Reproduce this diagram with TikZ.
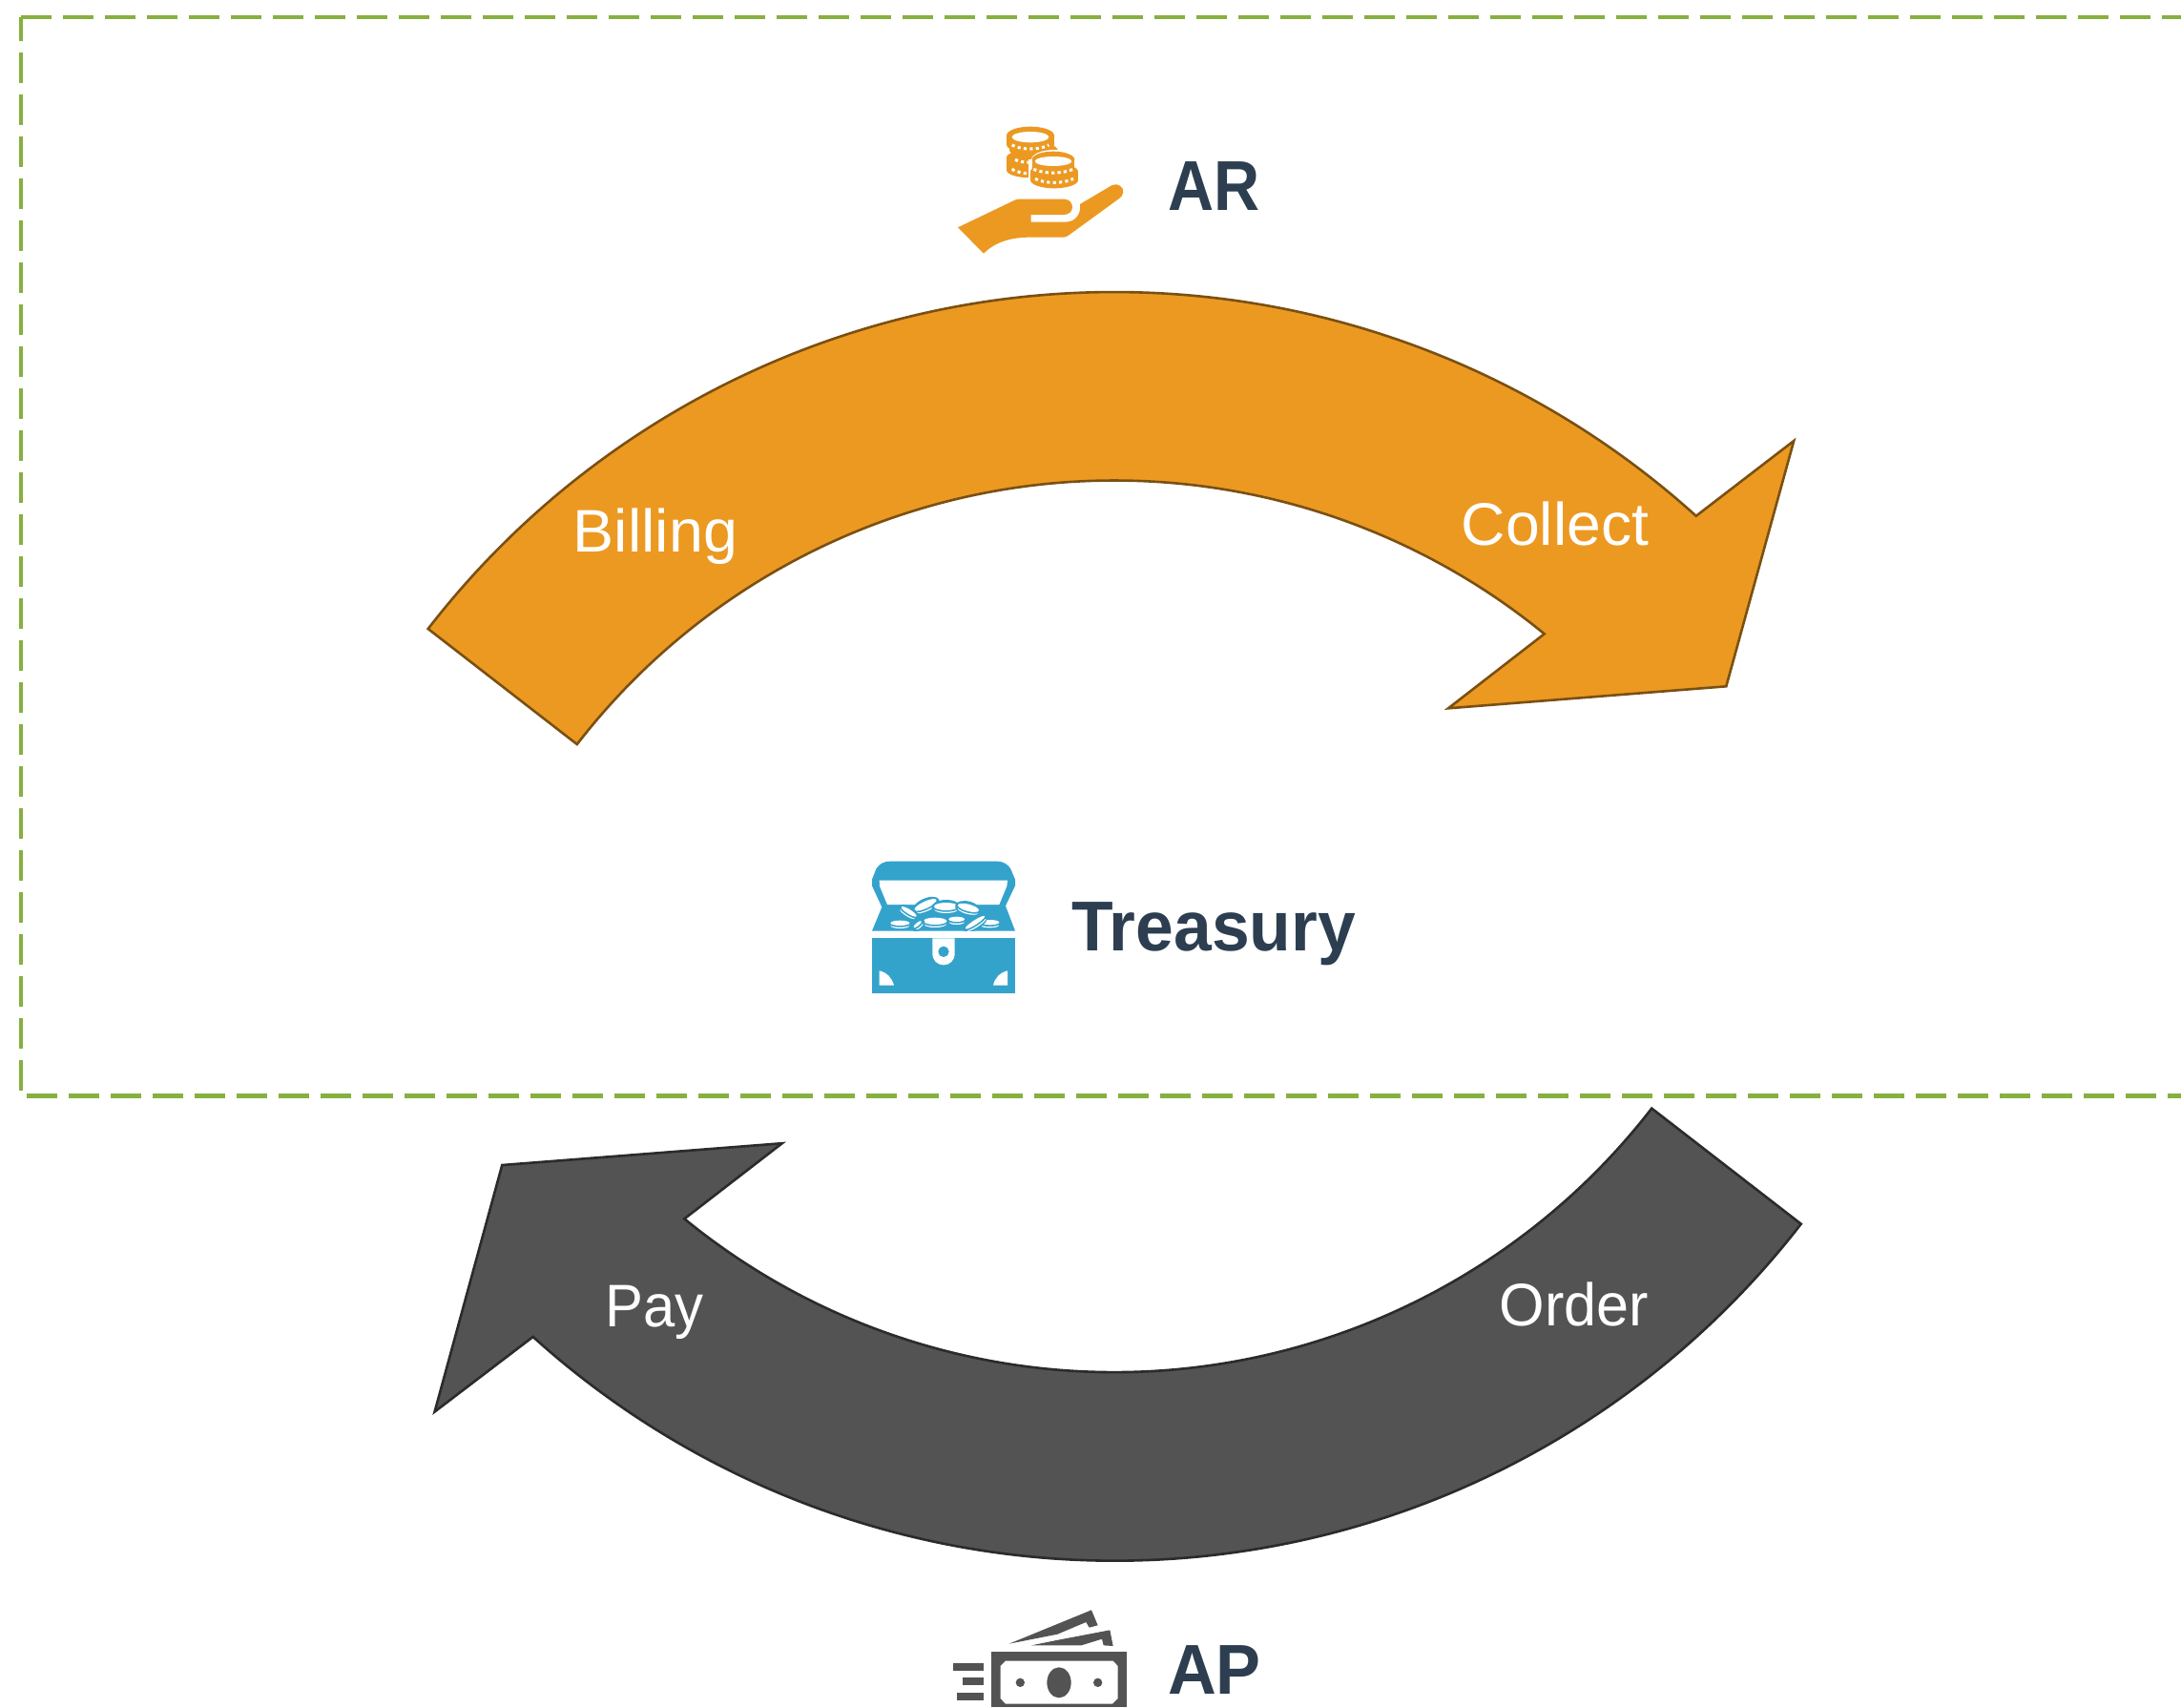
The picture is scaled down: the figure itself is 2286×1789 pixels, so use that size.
\documentclass[tikz,border=0pt]{standalone}
\usepackage{fontspec}
\setmainfont{Liberation Sans}
\definecolor{orangefill}{HTML}{EC9922}
\definecolor{orangeline}{HTML}{7A5012}
\definecolor{greyfill}{HTML}{535353}
\definecolor{greyline}{HTML}{2B2B2B}
\definecolor{navy}{HTML}{2C3E50}
\definecolor{chest}{HTML}{34A3CC}
\definecolor{boxgreen}{HTML}{86B03F}
\tikzset{
  stagetext/.style={anchor=base west,inner sep=0pt,text=white,font=\fontsize{63}{70}\selectfont,transform shape,xscale=#1},
  stagetext/.default=1,
  headtext/.style={anchor=base west,inner sep=0pt,text=navy,font=\bfseries\fontsize{74}{80}\selectfont,transform shape,xscale=#1},
  boxline/.style={draw=boxgreen,line width=4.3pt,dash pattern=on 32pt off 12pt},
  orangearrow/.style={fill=orangefill,draw=orangeline,line width=2.6pt,line join=miter},
  greyarrow/.style={fill=greyfill,draw=greyline,line width=2.6pt,line join=miter}
}
\newcommand{\coinpart}[5]{% cx cy rx ry h
  \fill[orangefill] (#1,#2) ellipse [x radius=#3pt,y radius=#4pt];
  \fill[orangefill] ({#1},{#2+#5}) ellipse [x radius=#3pt,y radius=#4pt];
  \fill[orangefill] ({#1-#3},{#2}) rectangle ({#1+#3},{#2+#5});
}
\newcommand{\coinface}[4]{% cx cy rx ry
  \fill[white] (#1,#2) ellipse [x radius=#3pt,y radius=#4pt];
}
\newcommand{\coinedge}[4]{% cx y rx sag
  \draw[white,line width=3pt,dash pattern=on 3.2pt off 3.2pt]
    ({#1-#3},{#2}) .. controls ({#1-#3*.5},{#2+#4}) and ({#1+#3*.5},{#2+#4}) .. ({#1+#3},{#2});
}
\newcommand{\pilecoin}[5]{% x y rx ry angle
  \begin{scope}[rotate around={#5:(#1,#2)}]
    \fill[chest] ({#1},{#2+3}) ellipse [x radius=#3pt+8pt,y radius=#4pt+12pt];
    \fill[white] ({#1},{#2+9}) ellipse [x radius=#3pt-1pt,y radius=#4pt];
    \fill[chest] ({#1},{#2+4}) ellipse [x radius=#3pt+3pt,y radius=#4pt+1pt];
    \fill[white] (#1,#2) ellipse [x radius=#3pt,y radius=#4pt];
  \end{scope}
}
\begin{document}
\begin{tikzpicture}[x=1pt,y=-1pt]
\useasboundingbox (0,0) rectangle (2286,1789);
\fill[white] (0,0) rectangle (2286,1789);
% dashed frame
\draw[boxline] (22,18) -- (2320,18);
\draw[boxline,dash phase=7pt] (22,18) -- (22,1148);
\draw[boxline] (2304,1148.5) -- (22,1148.5);
% orange arrow
\draw[orangearrow] (448.7,659) arc [start angle=142.27,end angle=47.9,radius=909.5pt]
  -- (1880.2,462) -- (1809.3,719.3) -- (1518,742.3) -- (1618.7,664.3)
  arc [start angle=50.73,end angle=142.29,radius=712pt] -- cycle;
% grey arrow
\draw[greyarrow] (1887.7,1282.7) arc [start angle=-37.73,end angle=-132.1,radius=909.5pt]
  -- (455.6,1479.5) -- (526.3,1221) -- (819.7,1198.2) -- (717.3,1277.3)
  arc [start angle=-129.27,end angle=-37.71,radius=712pt] -- cycle;
% labels
\node[stagetext=1.025] (billing) at (600.5,578) {Billing};
\node[stagetext=1.02] (collect) at (1531.5,571) {Collect};
\node[stagetext=.95] (pay) at (634,1390) {Pay};
\node[stagetext=.97] (order) at (1571.6,1389.5) {Order};
\node[headtext=.9] (ar) at (1224,220) {AR};
\node[headtext=.965] (treasury) at (1123,996) {Treasury};
\node[headtext=.95] (ap) at (1224,1775) {AP};
% hand and coins
\begin{scope}[shift={(980,110)},scale=1/3]
  \fill[orangefill] (72,385) -- (245,302) .. controls (252,298) and (258,296) .. (265,296)
    -- (405,296) .. controls (422,296) and (432,308) .. (432,321) .. controls (432,335) and (420,345) .. (405,345)
    -- (302,345) -- (302,368) -- (410,368) .. controls (440,368) and (460,345) .. (456,312)
    -- (557,252) .. controls (575,243) and (595,260) .. (592,275) .. controls (590,284) and (585,290) .. (578,295)
    -- (420,410) .. controls (415,414) and (410,416) .. (402,416) -- (300,416)
    .. controls (240,416) and (190,430) .. (153,467) -- cycle;
  \coinpart{300}{165}{75}{24}{40}
  \fill[orangefill] (310,142) ellipse [x radius=76pt,y radius=24pt];
  \coinedge{300}{172}{48}{12}
  \coinedge{300}{202}{58}{18}
  \coinpart{300}{96}{75}{28}{28}
  \coinface{300}{101}{58}{17}
  \coinedge{300}{126}{58}{16}
  \fill[white] (375,172) ellipse [x radius=72pt,y radius=31pt];
  \fill[white] (375,235) ellipse [x radius=81pt,y radius=32pt];
  \fill[white] (294,172) rectangle (456,235);
  \coinpart{372}{172}{67}{26}{25}
  \coinpart{375}{210}{75}{26}{26}
  \coinface{372}{177}{58}{15}
  \coinedge{372}{202}{62}{15}
  \coinedge{375}{232}{60}{16}
\end{scope}
% chest
\begin{scope}[shift={(890,880)},scale=1/3]
  \fill[chest] (72,125) -- (85,92) .. controls (95,76) and (110,68) .. (128,68)
    -- (465,68) .. controls (485,68) and (500,78) .. (508,92) -- (522,125) -- (522,145) -- (492,208)
    -- (522,287) -- (72,287) -- (103,212) -- (72,145) -- cycle;
  \fill[white] (95,128) -- (498,128) -- (496,146) -- (472,204) -- (120,204) -- (96,146) -- cycle;
  \pilecoin{240}{205}{38}{11}{25}
  \pilecoin{305}{210}{38}{12}{0}
  \pilecoin{375}{214}{34}{11}{-15}
  \pilecoin{188}{226}{28}{7}{-32}
  \pilecoin{160}{262}{30}{8}{0}
  \pilecoin{442}{260}{30}{8}{0}
  \pilecoin{338}{250}{25}{8}{0}
  \pilecoin{396}{260}{36}{7}{33}
  \pilecoin{270}{256}{37}{11}{0}
  \pilecoin{215}{266}{16}{5}{40}
  \fill[white] (60,287) rectangle (540,310);
  \fill[chest] (72,310) rectangle (522,482);
  \fill[white] (262,310) -- (332,310) -- (332,358) .. controls (332,380) and (316,394) .. (297,394)
    .. controls (278,394) and (262,380) .. (262,358) -- cycle;
  \fill[chest] (297,352) circle [radius=17pt];
  \fill[white] (95,412) .. controls (120,418) and (135,435) .. (141,458) -- (95,458) -- cycle;
  \fill[white] (498,412) .. controls (473,418) and (458,435) .. (453,458) -- (498,458) -- cycle;
\end{scope}
% money
\begin{scope}[shift={(980,1670)},scale=1/3]
  \fill[greyfill] (233,158) -- (492,52) -- (512,100) -- (485,107) -- (475,90) -- (385,128) -- cycle;
  \fill[greyfill] (303,163) -- (382,147) -- (550,115) -- (560,165) -- (530,163) -- (525,143) -- (460,163) -- cycle;
  \fill[greyfill] (177,183) rectangle (603,357);
  \fill[white] (222,212) -- (560,212) -- (575,228) -- (575,330) -- (558,347) -- (222,347) -- (206,330) -- (206,228) -- cycle;
  \fill[greyfill] (390,280) ellipse [x radius=38pt,y radius=48pt];
  \fill[greyfill] (268,280) circle [radius=14pt];
  \fill[greyfill] (512,280) circle [radius=14pt];
  \fill[greyfill] (57,219) rectangle (153,243);
  \fill[greyfill] (87,265) rectangle (153,288);
  \fill[greyfill] (69,312) rectangle (153,336);
\end{scope}
\end{tikzpicture}
\end{document}
